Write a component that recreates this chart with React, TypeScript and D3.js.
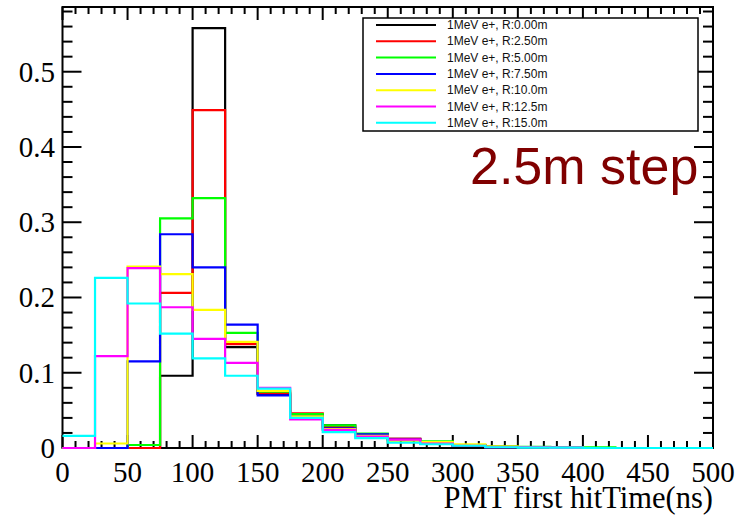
import React from "react";
import { scaleLinear, range } from "d3";

// bin edges every 25 ns, 0..500
const binEdges = range(0, 525, 25);

const seriesLabels = [
  "1MeV e+, R:0.00m",
  "1MeV e+, R:2.50m",
  "1MeV e+, R:5.00m",
  "1MeV e+, R:7.50m",
  "1MeV e+, R:10.0m",
  "1MeV e+, R:12.5m",
  "1MeV e+, R:15.0m",
];
const seriesColors = ["#000000", "#ff0000", "#00ff00", "#0000ff", "#ffff00", "#ff00ff", "#00ffff"];

const r000 = [0, 0, 0, 0.096, 0.558, 0.134, 0.072, 0.044, 0.030, 0.018, 0.012, 0.007, 0.003, 0.001, 0.001, 0.0005, 0, 0, 0, 0];
const r250 = [0, 0, 0, 0.206, 0.449, 0.138, 0.073, 0.046, 0.028, 0.017, 0.012, 0.007, 0.004, 0.002, 0.001, 0.0005, 0, 0, 0, 0];
const r500 = [0, 0, 0.004, 0.305, 0.332, 0.153, 0.075, 0.045, 0.030, 0.019, 0.010, 0.009, 0.004, 0.002, 0.0015, 0.0005, 0.001, 0, 0, 0];
const r750 = [0, 0, 0.115, 0.284, 0.240, 0.164, 0.070, 0.042, 0.026, 0.018, 0.011, 0.006, 0.003, 0.001, 0.001, 0.0005, 0, 0, 0, 0];
const r100 = [0, 0.006, 0.241, 0.231, 0.1835, 0.141, 0.076, 0.042, 0.025, 0.016, 0.010, 0.008, 0.005, 0.002, 0.001, 0.0005, 0, 0, 0, 0];
const r125 = [0, 0.122, 0.239, 0.187, 0.145, 0.113, 0.080, 0.038, 0.024, 0.015, 0.011, 0.006, 0.003, 0.001, 0.001, 0.0005, 0, 0, 0, 0];
const r150 = [0.016, 0.226, 0.192, 0.152, 0.119, 0.096, 0.079, 0.040, 0.021, 0.013, 0.007, 0.005, 0.003, 0.001, 0.0005, 0.0005, 0, 0, 0, 0];
const seriesValues = [r000, r250, r500, r750, r100, r125, r150];

const xTicks = [0, 50, 100, 150, 200, 250, 300, 350, 400, 450, 500];
const yTickLabels = ["0", "0.1", "0.2", "0.3", "0.4", "0.5"];

const W = 745;
const H = 519;
const left = 62.5;
const right = 713;
const top = 7;
const bottom = 448;

export default function App() {
  const x = scaleLinear().domain([0, 500]).range([left, right]);
  const y = scaleLinear().domain([0, 0.586]).range([bottom, top]);

  const xMinor = range(0, 501, 10);
  const yMinor = range(0, 0.586, 0.02);
  const yMajor = yTickLabels.map((d) => +d);

  const stepPath = (vals: number[]) => {
    let p = `M${x(binEdges[0])},${y(vals[0])}`;
    vals.forEach((v, i) => {
      if (i > 0) p += `V${y(v)}`;
      p += `H${x(binEdges[i + 1])}`;
    });
    return p;
  };

  const serif = "'Liberation Serif', 'Times New Roman', serif";
  const sans = "'Liberation Sans', Arial, Helvetica, sans-serif";

  return (
    <svg width={W} height={H} style={{ position: "absolute", left: 0, top: 0 }}>
      <rect width={W} height={H} fill="white" />
      {/* x ticks, bottom and top */}
      {xMinor.map((t) => {
        const major = t % 50 === 0;
        const len = major ? 13 : 7;
        return (
          <g key={"xt" + t} stroke="black" strokeWidth={2}>
            <line x1={x(t)} x2={x(t)} y1={bottom} y2={bottom - len} />
            <line x1={x(t)} x2={x(t)} y1={top} y2={top + len} />
          </g>
        );
      })}
      {/* y ticks, left and right */}
      {yMinor.map((t, i) => {
        const major = i % 5 === 0;
        const len = major ? 19 : 10;
        return (
          <g key={"yt" + i} stroke="black" strokeWidth={2}>
            <line x1={left} x2={left + len} y1={y(t)} y2={y(t)} />
            <line x1={right} x2={right - len} y1={y(t)} y2={y(t)} />
          </g>
        );
      })}
      <rect x={left} y={top} width={right - left} height={bottom - top} fill="none" stroke="black" strokeWidth={2} />

      {/* tick labels */}
      {yMajor.map((t, i) => (
        <text key={"yl" + i} x={55} y={y(t) + 10} textAnchor="end" fontFamily={serif} fontSize={29}>
          {yTickLabels[i]}
        </text>
      ))}
      {xTicks.map((t) => (
        <text key={"xl" + t} x={x(t)} y={482} textAnchor="middle" fontFamily={serif} fontSize={29}>
          {t}
        </text>
      ))}
      <text x={713} y={508} textAnchor="end" fontFamily={serif} fontSize={30.5}>
        PMT first hitTime(ns)
      </text>

      {/* histograms */}
      {seriesValues.map((vals, i) => (
        <path key={"h" + i} d={stepPath(vals)} fill="none" stroke={seriesColors[i]} strokeWidth={2.2} />
      ))}

      {/* legend */}
      <rect x={363} y={18} width={335} height={113} fill="white" stroke="black" strokeWidth={1.5} />
      {seriesLabels.map((lab, i) => {
        const ly = 25 + i * 16.3;
        return (
          <g key={"lg" + i}>
            <line x1={376} x2={436} y1={ly} y2={ly} stroke={seriesColors[i]} strokeWidth={2} />
            <text x={447} y={ly + 4} fontFamily={sans} fontSize={12} fill="#111">
              {lab}
            </text>
          </g>
        );
      })}

      <text x={470} y={184} fontFamily={sans} fontSize={52} fill="#800000">
        2.5m step
      </text>
    </svg>
  );
}
